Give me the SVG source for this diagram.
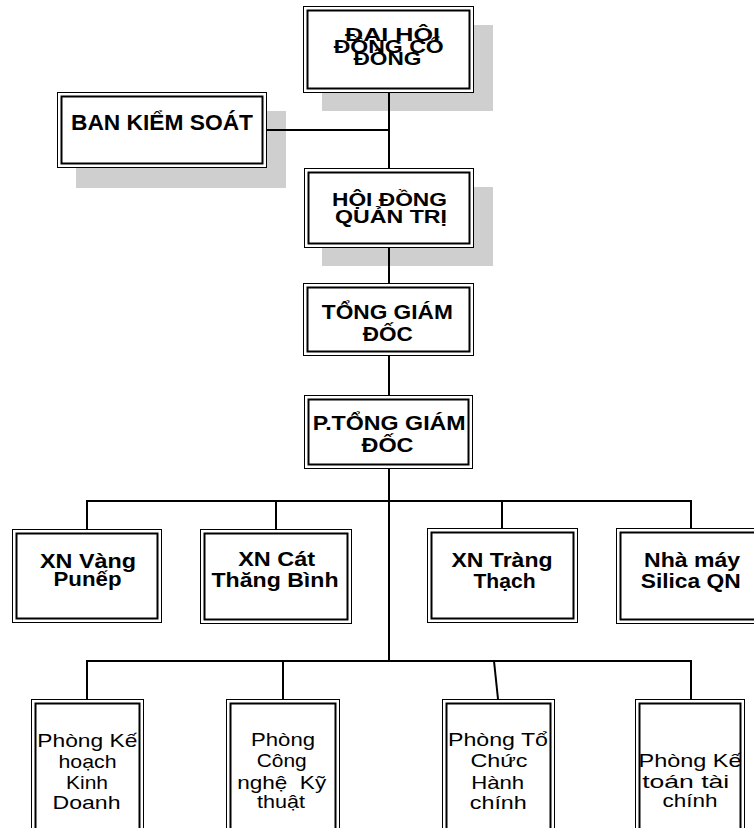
<svg xmlns="http://www.w3.org/2000/svg" width="754" height="828" viewBox="0 0 754 828">
<style>
.sh{fill:#cfcfcf}
.o{fill:#fff;stroke:#000;stroke-width:1}
.i{fill:none;stroke:#000;stroke-width:2}
.c{fill:none;stroke:#000;stroke-width:2}
text{font-family:"Liberation Sans",Arial,sans-serif;text-anchor:middle;fill:#000}
.b{font-weight:bold;font-size:20px}
.b18{font-weight:bold;font-size:18px}
.b22{font-weight:bold;font-size:22px}
.r{font-weight:normal;font-size:18.5px}
</style>
<rect width="754" height="828" fill="#fff"/>
<g id="shadows">
<rect class="sh" x="322" y="25" width="171" height="86"/>
<rect class="sh" x="76" y="111" width="210" height="77"/>
<rect class="sh" x="322" y="187" width="171" height="79"/>
</g>
<g id="connectors">
<path class="c" d="M389 93V168"/>
<path class="c" d="M267 130H389"/>
<path class="c" d="M389 248V283"/>
<path class="c" d="M389 356V395"/>
<path class="c" d="M389 469V661"/>
<path class="c" d="M87 529V501H691V528"/>
<path class="c" d="M276 501V529"/>
<path class="c" d="M502 501V528"/>
<path class="c" d="M87 699V661H691V699"/>
<path class="c" d="M283 661V699"/>
<path class="c" d="M494 661L498 699"/>
</g>
<g id="dai-hoi-dong-co-dong">
<rect class="o" x="303.5" y="6.5" width="170" height="86"/>
<rect class="i" x="307.5" y="10.5" width="162" height="78"/>
<text class="b18" x="392.5" y="41" textLength="95" lengthAdjust="spacingAndGlyphs">ĐẠI HỘI</text>
<text class="b18" x="388.7" y="53" textLength="110" lengthAdjust="spacingAndGlyphs">ĐỒNG CỔ</text>
<text class="b18" x="387.5" y="65" textLength="68" lengthAdjust="spacingAndGlyphs">ĐÔNG</text>
</g>
<g id="ban-kiem-soat">
<rect class="o" x="57.5" y="92.5" width="209" height="75"/>
<rect class="i" x="61.5" y="96.5" width="201" height="67"/>
<text class="b22" x="162" y="129.5" textLength="182" lengthAdjust="spacingAndGlyphs">BAN KIỂM SOÁT</text>
</g>
<g id="hoi-dong-quan-tri">
<rect class="o" x="304.5" y="168.5" width="169" height="79"/>
<rect class="i" x="308.5" y="172.5" width="161" height="71"/>
<text class="b18" x="389.5" y="206" textLength="115" lengthAdjust="spacingAndGlyphs">HỘI ĐỒNG</text>
<text class="b18" x="391" y="223" textLength="112" lengthAdjust="spacingAndGlyphs">QUẢN TRỊ</text>
</g>
<g id="tong-giam-doc">
<rect class="o" x="303.5" y="283.5" width="170" height="72"/>
<rect class="i" x="307.5" y="287.5" width="162" height="64"/>
<text class="b" x="387.3" y="318.5" textLength="131" lengthAdjust="spacingAndGlyphs">TỔNG GIÁM</text>
<text class="b" x="387.7" y="341" textLength="50" lengthAdjust="spacingAndGlyphs">ĐỐC</text>
</g>
<g id="p-tong-giam-doc">
<rect class="o" x="304.5" y="395.5" width="168" height="73"/>
<rect class="i" x="308.5" y="399.5" width="160" height="65"/>
<text class="b" x="389.2" y="430" textLength="153" lengthAdjust="spacingAndGlyphs">P.TỔNG GIÁM</text>
<text class="b" x="387.5" y="452" textLength="52" lengthAdjust="spacingAndGlyphs">ĐỐC</text>
</g>
<g id="xn-vang-punep">
<rect class="o" x="12.5" y="529.5" width="149" height="93"/>
<rect class="i" x="16.5" y="533.5" width="141" height="85"/>
<text class="b" x="88" y="567.5" textLength="96" lengthAdjust="spacingAndGlyphs">XN Vàng</text>
<text class="b" x="87.5" y="586" textLength="68" lengthAdjust="spacingAndGlyphs">Punếp</text>
</g>
<g id="xn-cat-thang-binh">
<rect class="o" x="200.5" y="529.5" width="151" height="94"/>
<rect class="i" x="204.5" y="533.5" width="143" height="86"/>
<text class="b" x="276.7" y="566" textLength="77" lengthAdjust="spacingAndGlyphs">XN Cát</text>
<text class="b" x="275" y="587" textLength="127" lengthAdjust="spacingAndGlyphs">Thăng Bình</text>
</g>
<g id="xn-trang-thach">
<rect class="o" x="427.5" y="528.5" width="150" height="94"/>
<rect class="i" x="431.5" y="532.5" width="142" height="86"/>
<text class="b" x="502" y="567" textLength="101" lengthAdjust="spacingAndGlyphs">XN Tràng</text>
<text class="b" x="504.5" y="588" textLength="62" lengthAdjust="spacingAndGlyphs">Thạch</text>
</g>
<g id="nha-may-silica-qn">
<rect class="o" x="616.5" y="528.5" width="149" height="95"/>
<rect class="i" x="620.5" y="532.5" width="141" height="87"/>
<text class="b" x="692" y="567" textLength="96" lengthAdjust="spacingAndGlyphs">Nhà máy</text>
<text class="b" x="690.7" y="588" textLength="100" lengthAdjust="spacingAndGlyphs">Silica QN</text>
</g>
<g id="phong-ke-hoach-kinh-doanh">
<rect class="o" x="31.5" y="699.5" width="112" height="140"/>
<rect class="i" x="35.5" y="703.5" width="104" height="132"/>
<text class="r" x="87.3" y="746.5" textLength="100" lengthAdjust="spacingAndGlyphs">Phòng Kế</text>
<text class="r" x="87.5" y="768" textLength="58" lengthAdjust="spacingAndGlyphs">hoạch</text>
<text class="r" x="87" y="789" textLength="42" lengthAdjust="spacingAndGlyphs">Kinh</text>
<text class="r" x="86.5" y="809" textLength="68" lengthAdjust="spacingAndGlyphs">Doanh</text>
</g>
<g id="phong-cong-nghe-ky-thuat">
<rect class="o" x="226.5" y="699.5" width="113" height="140"/>
<rect class="i" x="230.5" y="703.5" width="105" height="132"/>
<text class="r" x="283" y="746" textLength="64" lengthAdjust="spacingAndGlyphs">Phòng</text>
<text class="r" x="281.7" y="767" textLength="50" lengthAdjust="spacingAndGlyphs">Công</text>
<text class="r" x="281.7" y="789" textLength="89" lengthAdjust="spacingAndGlyphs" style="white-space:pre">nghệ  Kỹ</text>
<text class="r" x="281" y="808" textLength="48" lengthAdjust="spacingAndGlyphs">thuật</text>
</g>
<g id="phong-to-chuc-hanh-chinh">
<rect class="o" x="442.5" y="699.5" width="112" height="140"/>
<rect class="i" x="446.5" y="703.5" width="104" height="132"/>
<text class="r" x="498" y="746" textLength="100" lengthAdjust="spacingAndGlyphs">Phòng Tổ</text>
<text class="r" x="499" y="767" textLength="57" lengthAdjust="spacingAndGlyphs">Chức</text>
<text class="r" x="497.7" y="789" textLength="53" lengthAdjust="spacingAndGlyphs">Hành</text>
<text class="r" x="498.3" y="809" textLength="57" lengthAdjust="spacingAndGlyphs">chính</text>
</g>
<g id="phong-ke-toan-tai-chinh">
<rect class="o" x="635.5" y="699.5" width="109" height="140"/>
<rect class="i" x="639.5" y="703.5" width="101" height="132"/>
<text class="r" x="690" y="767" textLength="103" lengthAdjust="spacingAndGlyphs">Phòng Kế</text>
<text class="r" x="685.7" y="788" textLength="87" lengthAdjust="spacingAndGlyphs">toán tài</text>
<text class="r" x="690" y="807" textLength="55" lengthAdjust="spacingAndGlyphs">chính</text>
</g>
</svg>
